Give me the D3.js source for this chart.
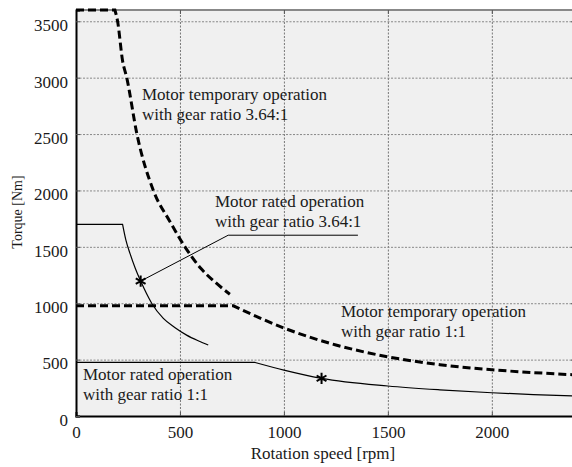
<!DOCTYPE html>
<html lang="en">
<head>
<meta charset="UTF-8">
<script src="https://d3js.org/d3.v7.min.js"></script>
<style>
  body { margin: 0; background: #fff; }
</style>
</head>
<body>
<svg id="chart" width="572" height="467"></svg>
<script>
// tick values
var xTicks = [0, 500, 1000, 1500, 2000];
var yTicks = [0, 500, 1000, 1500, 2000, 2500, 3000, 3500];

// motor temporary operation, gear 3.64:1 (dashed)
var temp364Rpm    = [0, 187, 200, 224, 244, 293, 372, 450, 524, 600, 670, 740];
var temp364Torque = [3600, 3600, 3500, 3150, 3000, 2500, 2000, 1730, 1500, 1310, 1185, 1080];

// motor temporary operation, gear 1:1 (dashed)
var temp11Rpm    = [0, 757, 1000, 1250, 1500, 1750, 2000, 2200, 2400];
var temp11Torque = [977, 977, 780, 630, 525, 455, 410, 385, 365];

// motor rated operation, gear 3.64:1 (solid)
var rated364Rpm    = [0, 224, 240, 260, 285, 311, 364, 420, 475, 532, 590, 636];
var rated364Torque = [1700, 1700, 1560, 1440, 1310, 1196, 1000, 865, 785, 717, 665, 629];

// motor rated operation, gear 1:1 (solid)
var rated11Rpm    = [0, 861, 1000, 1181, 1500, 1750, 2000, 2200, 2400];
var rated11Torque = [475, 475, 407, 334, 266, 232, 206, 190, 177];

// rated points (asterisks)
var starRpm    = [311, 1181];
var starTorque = [1196, 334];

(function() {
var FONT = "'Liberation Serif', 'DejaVu Serif', 'Times New Roman', serif";
var svg = d3.select("#chart");
var mLeft = 76, mRight = 575, mTop = 10, mBottom = 416;

var x = d3.scaleLinear().domain([0, 2400]).range([mLeft, mRight]);
var y = d3.scaleLinear().domain([0, 3600]).range([mBottom, mTop]);

// plot background
svg.append("rect")
  .attr("x", mLeft).attr("y", mTop)
  .attr("width", mRight - mLeft).attr("height", mBottom - mTop)
  .attr("fill", "#f0f0f0");

// grid
svg.append("g")
  .attr("transform", "translate(0," + mBottom + ")")
  .call(d3.axisBottom(x).tickValues(xTicks.slice(1)).tickSize(-(mBottom - mTop)).tickFormat(""))
  .call(function(g) { g.select(".domain").remove(); })
  .selectAll("line").attr("stroke", "#777").attr("stroke-dasharray", "2,1.5");
svg.append("g")
  .attr("transform", "translate(" + mLeft + ",0)")
  .call(d3.axisLeft(y).tickValues(yTicks.slice(1)).tickSize(-(mRight - mLeft)).tickFormat(""))
  .call(function(g) { g.select(".domain").remove(); })
  .selectAll("line").attr("stroke", "#888").attr("stroke-dasharray", "2,1.5");

// top and right frame
svg.append("line").attr("x1", mLeft).attr("x2", mRight).attr("y1", mTop).attr("y2", mTop)
  .attr("stroke", "#888").attr("stroke-width", 2);
svg.append("g")
  .attr("transform", "translate(0," + mTop + ")")
  .call(d3.axisTop(x).tickValues(xTicks).tickSize(-4).tickFormat(""))
  .call(function(g) { g.select(".domain").remove(); })
  .selectAll("line").attr("stroke", "#555");
svg.append("g")
  .attr("transform", "translate(" + mRight + ",0)")
  .call(d3.axisRight(y).tickValues(yTicks).tickSize(-4).tickFormat(""))
  .call(function(g) { g.select(".domain").remove(); })
  .selectAll("line").attr("stroke", "#555");

// curves: straight flat part, then smooth decay (sharp corner between)
var smooth = d3.line()
  .x(function(d) { return x(d[0]); })
  .y(function(d) { return y(d[1]); })
  .curve(d3.curveMonotoneX);

function addCurve(rpm, torque, dashed) {
  var pts = d3.zip(rpm, torque);
  var d = "M" + x(pts[0][0]) + "," + y(pts[0][1]) + smooth(pts.slice(1)).replace(/^M/, "L");
  svg.append("path")
    .attr("d", d)
    .attr("fill", "none")
    .attr("stroke", "#000")
    .attr("stroke-width", dashed ? 3 : 1.2)
    .attr("stroke-dasharray", dashed ? "8,4" : null);
}
addCurve(temp364Rpm, temp364Torque, true);
addCurve(temp11Rpm, temp11Torque, true);
addCurve(rated364Rpm, rated364Torque, false);
addCurve(rated11Rpm, rated11Torque, false);

// leader line for rated 3.64:1 label
svg.append("path")
  .datum([[311, 1196], [732, 1603], [1356, 1603]])
  .attr("d", d3.line().x(function(d) { return x(d[0]); }).y(function(d) { return y(d[1]); }))
  .attr("fill", "none").attr("stroke", "#000").attr("stroke-width", 1);

// asterisks
svg.selectAll(".star").data(d3.zip(starRpm, starTorque)).enter()
  .append("path")
  .attr("class", "star")
  .attr("transform", function(d) { return "translate(" + x(d[0]) + "," + y(d[1]) + ")"; })
  .attr("d", d3.symbol(d3.symbolAsterisk, 90))
  .attr("stroke", "#000").attr("stroke-width", 2).attr("fill", "none");

// axes
svg.append("g")
  .attr("transform", "translate(0," + mBottom + ")")
  .call(d3.axisBottom(x).tickValues(xTicks).tickSize(-4).tickPadding(10).tickFormat(d3.format("d")))
  .call(function(g) {
    g.attr("font-family", null);
    g.select(".domain").attr("stroke", "#000").attr("stroke-width", 2);
    g.selectAll("line").attr("stroke", "#555");
    g.selectAll("text").style("font-family", FONT).style("font-size", "17px").attr("fill", "#1a1a1a");
  });
svg.append("g")
  .attr("transform", "translate(" + mLeft + ",0)")
  .call(d3.axisLeft(y).tickValues(yTicks).tickSize(-4).tickPadding(8).tickFormat(d3.format("d")))
  .call(function(g) {
    g.attr("font-family", null);
    g.select(".domain").attr("stroke", "#000").attr("stroke-width", 2);
    g.selectAll("line").attr("stroke", "#555");
    g.selectAll("text").style("font-family", FONT).style("font-size", "17px").attr("fill", "#1a1a1a").attr("dy", "0.55em");
  });

// axis titles
svg.append("text")
  .attr("x", 323).attr("y", 459)
  .attr("text-anchor", "middle")
  .style("font-family", FONT).style("font-size", "17px").attr("fill", "#1a1a1a")
  .text("Rotation speed [rpm]");
svg.append("text")
  .attr("transform", "translate(22,212) rotate(-90)")
  .attr("text-anchor", "middle")
  .style("font-family", FONT).style("font-size", "14px").attr("fill", "#1a1a1a")
  .text("Torque [Nm]");

// curve labels
function addLabel(px, py, lines) {
  var t = svg.append("text").attr("x", px).attr("y", py)
    .style("font-family", FONT).style("font-size", "17px").attr("fill", "#1a1a1a");
  lines.forEach(function(s, i) {
    t.append("tspan").attr("x", px).attr("dy", i === 0 ? 0 : 20).text(s);
  });
}
addLabel(142, 100, ["Motor temporary operation", "with gear ratio 3.64:1"]);
addLabel(215, 207, ["Motor rated operation", "with gear ratio 3.64:1"]);
addLabel(341, 317, ["Motor temporary operation", "with gear ratio 1:1"]);
addLabel(83, 380, ["Motor rated operation", "with gear ratio 1:1"]);
})();
</script>
</body>
</html>
